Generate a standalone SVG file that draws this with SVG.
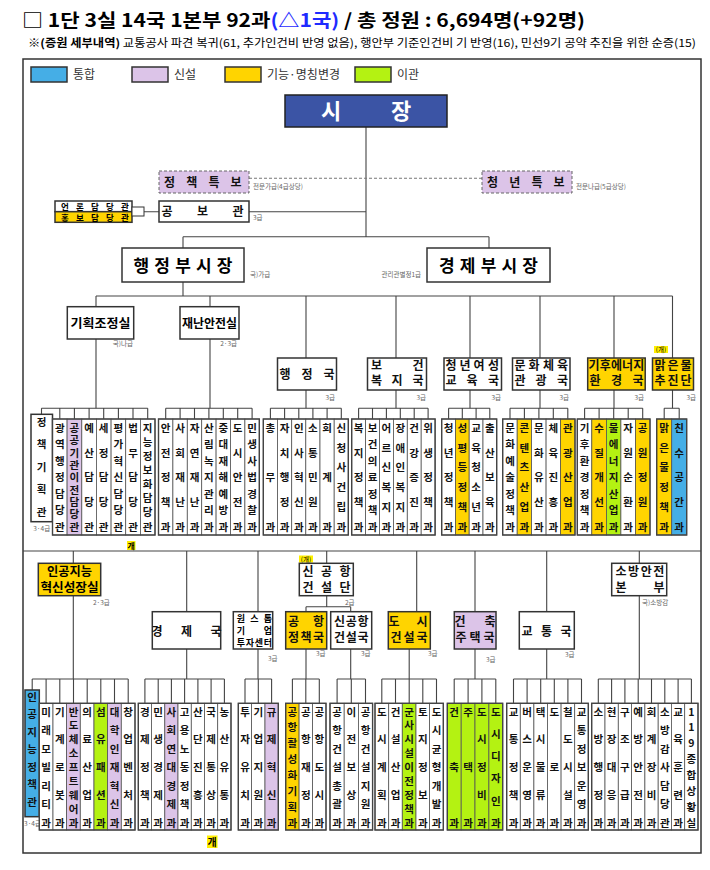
<svg xmlns="http://www.w3.org/2000/svg" width="710" height="870" viewBox="0 0 710 870">
<style>
text{font-family:"Noto Sans CJK KR","Noto Sans",sans-serif}
.t{font-size:10.5px;font-weight:700;text-anchor:middle;fill:#111}
.h{font-size:12px;font-weight:700;text-anchor:middle;fill:#111}
.s{font-size:6.5px;fill:#666}
.b{stroke:#333;stroke-width:1.5}
.col{stroke:#555;stroke-width:0.8}
.grp{fill:none;stroke:#444;stroke-width:1.4}
.w{fill:#fff}.y{fill:#ffd400}.p{fill:#dcc4e8}.g{fill:#b4f212}.bl{fill:#45aee6}
.conn path{fill:none;stroke:#444;stroke-width:1.1}
.lg{font-size:12px;fill:#333}
</style>
<rect width="710" height="870" fill="#fff"/>
<g id="header">
<text x="22" y="27" font-size="18" font-weight="700" textLength="563" lengthAdjust="spacingAndGlyphs">□ 1단 3실 14국 1본부 92과<tspan fill="#1f2bff">(△1국)</tspan> / 총 정원 : 6,694명(+92명)</text>
<text x="28" y="47" font-size="11" textLength="668" lengthAdjust="spacingAndGlyphs">※<tspan font-weight="700">(증원 세부내역)</tspan> 교통공사 파견 복귀(61, 추가인건비 반영 없음), 행안부 기준인건비 기 반영(16), 민선9기 공약 추진을 위한 순증(15)</text>
</g>
<rect x="23" y="59" width="678" height="794" fill="none" stroke="#333" stroke-width="1.5"/>
<g id="legend">
<rect class="b bl" x="31" y="67" width="36" height="15" stroke-width="1"/><text class="lg" x="73" y="79">통합</text>
<rect class="b p" x="132" y="67" width="36" height="15" stroke-width="1"/><text class="lg" x="174" y="79">신설</text>
<rect class="b y" x="225" y="67" width="36" height="15" stroke-width="1"/><text class="lg" x="267" y="79">기능·명칭변경</text>
<rect class="b g" x="355" y="67" width="36" height="15" stroke-width="1"/><text class="lg" x="397" y="79">이관</text>
</g>
<g class="conn" id="connectors">
<path d="M366 127V236.7M183 236.7H489M183 236.7V248M489 236.7V248M249 211.7H366M144 211.7H159"/>
<path d="M249 178.3H482" stroke-dasharray="3 2" style="stroke:#777"/>
<path d="M183 282V296M96 296H672.5M96 296V306.7M96 339V408.3M210 296V306.7M210 339V408.3M306 296V358M306 390V408.3M396 296V358M396 390V408.3M470 296V358M470 390V408.3M540 296V358M540 390V408.3M614 296V358M614 390V408.3M672.5 296V358M672.5 390V408.3"/>
<path d="M41.5 408.3H147.7M41.5 408.3V414.3M59.8 408.3V419M74.4 408.3V419M89.1 408.3V419M103.7 408.3V419M118.4 408.3V419M133 408.3V419M147.7 408.3V419"/>
<path d="M165.7 408.3H252.1M165.7 408.3V419M180.1 408.3V419M194.5 408.3V419M208.9 408.3V419M223.3 408.3V419M237.7 408.3V419M252.1 408.3V419"/>
<path d="M270.4 408.3H341.3M270.4 408.3V419M284.6 408.3V419M298.8 408.3V419M312.9 408.3V419M327.1 408.3V419M341.3 408.3V419"/>
<path d="M358.6 408.3H428.1M358.6 408.3V419M372.5 408.3V419M386.4 408.3V419M400.3 408.3V419M414.2 408.3V419M428.1 408.3V419"/>
<path d="M448.6 408.3H489.8M448.6 408.3V419M462.3 408.3V419M476.1 408.3V419M489.8 408.3V419"/>
<path d="M510 408.3H567.8M510 408.3V419M524.4 408.3V419M538.9 408.3V419M553.3 408.3V419M567.8 408.3V419"/>
<path d="M584.6 408.3H642.7M584.6 408.3V419M599.1 408.3V419M613.7 408.3V419M628.2 408.3V419M642.7 408.3V419"/>
<path d="M664.2 408.3H679.2M664.2 408.3V419M679.2 408.3V419"/>
<path d="M23 551H701M73.3 551V563.3M73.3 595.7V679M186.7 551V611.7M186.7 649V679M258 551V611.7M258 649V679M326.7 551V563.3M326.7 595.7V606.7M306 606.7H350.7M306 606.7V611.7M350.7 606.7V611.7M306 649V679M350.7 649V679M416.7 551V611.7M409.2 649V679M475 551V611.7M475 649V679M546.7 551V611.7M546.7 649V679M639.3 551V563.3M639.3 595.7V679"/>
<path d="M32.2 679H128.2M32.2 679V690M46.1 679V703.3M59.8 679V703.3M73.5 679V703.3M87.2 679V703.3M100.8 679V703.3M114.5 679V703.3M128.2 679V703.3"/>
<path d="M144.9 679H224.4M144.9 679V703.3M158.2 679V703.3M171.4 679V703.3M184.6 679V703.3M197.9 679V703.3M211.1 679V703.3M224.4 679V703.3"/>
<path d="M245 679H271.6M245 679V703.3M258.3 679V703.3M271.6 679V703.3"/>
<path d="M292.4 679H319.3M292.4 679V703.3M305.8 679V703.3M319.3 679V703.3"/>
<path d="M337.1 679H365.5M337.1 679V703.3M351.3 679V703.3M365.5 679V703.3"/>
<path d="M381.8 679H436.5M381.8 679V703.3M395.5 679V703.3M409.2 679V703.3M422.8 679V703.3M436.5 679V703.3"/>
<path d="M454.2 679H495.8M454.2 679V703.3M468.1 679V703.3M481.9 679V703.3M495.8 679V703.3"/>
<path d="M513.5 679H581.5M513.5 679V703.3M527.1 679V703.3M540.7 679V703.3M554.3 679V703.3M567.9 679V703.3M581.5 679V703.3"/>
<path d="M598.3 679H691.4M598.3 679V703.3M611.6 679V703.3M624.9 679V703.3M638.2 679V703.3M651.5 679V703.3M664.8 679V703.3M678.1 679V703.3M691.4 679V703.3"/>
</g>
<g id="mayor"><rect x="285" y="95" width="162" height="32" fill="#3b54a5" stroke="#222" stroke-width="1.5"/><text x="331 401" y="119" font-size="22" font-weight="700" fill="#fff" text-anchor="middle">시장</text></g>
<g id="policy-adv"><rect class="p" x="159" y="171" width="90" height="22" stroke="#666" stroke-width="1" stroke-dasharray="3 2"/><text class="h" x="169.5 191.7 214 236" y="186.5">정책특보</text><text class="s" x="253" y="189">전문가급(4급상당)</text></g>
<g id="youth-adv"><rect class="p" x="482" y="171" width="90" height="22" stroke="#666" stroke-width="1" stroke-dasharray="3 2"/><text class="h" x="492.5 514.7 537 559" y="186.5">청년특보</text><text class="s" x="576" y="189">전문나급(5급상당)</text></g>
<g id="pr"><rect class="b w" x="159" y="201" width="90" height="21"/><text class="h" x="167 202.5 238" y="216">공보관</text><text class="s" x="253" y="220">3급</text></g>
<g id="pr-sub"><rect class="b w" x="55" y="201" width="77" height="10.7" stroke-width="1.2"/><rect class="b y" x="55" y="211.7" width="77" height="10.6" stroke-width="1.2"/><rect class="w" x="132" y="207" width="12" height="9" stroke="#333" stroke-width="1"/><text x="65 80 95 110 125" y="209.6" font-size="8.5" font-weight="700" text-anchor="middle">언론담당관</text><text x="65 80 95 110 125" y="220.6" font-size="8.5" font-weight="700" text-anchor="middle">홍보담당관</text></g>
<g id="vm1"><rect class="b w" x="122" y="248" width="122" height="34"/><text x="183" y="272" font-size="17" font-weight="700" text-anchor="middle" textLength="99" lengthAdjust="spacing">행정부시장</text><text class="s" x="250" y="277">국)가급</text></g>
<g id="vm2"><rect class="b w" x="427" y="248" width="123" height="34"/><text x="488.5" y="272" font-size="17" font-weight="700" text-anchor="middle" textLength="99" lengthAdjust="spacing">경제부시장</text><text class="s" x="421" y="277" text-anchor="end">관리관별정1급</text></g>
<g id="plan"><rect class="b w" x="67.3" y="306.7" width="66.4" height="32.3"/><text x="100.5" y="328" font-size="12.5" font-weight="700" text-anchor="middle" textLength="60" lengthAdjust="spacingAndGlyphs">기획조정실</text><text class="s" x="133" y="346" text-anchor="end">국)나급</text></g>
<g id="disaster"><rect class="b w" x="180" y="306.7" width="59" height="32.3"/><text x="209.5" y="328" font-size="12" font-weight="700" text-anchor="middle" textLength="55" lengthAdjust="spacingAndGlyphs">재난안전실</text><text class="s" x="237" y="346" text-anchor="end">2·3급</text></g>
<g id="admin"><rect class="b w" x="277.5" y="358" width="59" height="32"/><text class="h" x="285 307 329" y="378.5">행정국</text><text class="s" x="335" y="400" text-anchor="end">3급</text></g>
<g id="health"><rect class="b w" x="367.5" y="358" width="59" height="32"/><text class="h" x="376.5 418" y="369.5">보건</text><text class="h" x="376.5 397 418" y="385.2">복지국</text><text class="s" x="426" y="400" text-anchor="end">3급</text></g>
<g id="youth"><rect class="b w" x="444" y="358" width="57.5" height="32"/><text class="h" x="451 465 479 493.5" y="369.5">청년여성</text><text class="h" x="451 472 493.5" y="385.2">교육국</text><text class="s" x="501" y="400" text-anchor="end">3급</text></g>
<g id="culture"><rect class="b w" x="512.5" y="358" width="57.5" height="32"/><text class="h" x="520 534 548.5 562.5" y="369.5">문화체육</text><text class="h" x="520 541 562.5" y="385.2">관광국</text><text class="s" x="569" y="400" text-anchor="end">3급</text></g>
<g id="climate"><rect class="b y" x="587.7" y="358" width="57.5" height="32"/><text class="h" x="594 605.2 616.4 627.6 638.8" y="369.5" font-size="11">기후에너지</text><text class="h" x="595 616.4 638" y="385.2">환경국</text><text class="s" x="644" y="400" text-anchor="end">3급</text></g>
<g id="water"><rect x="654" y="346" width="14" height="7" fill="#ffef00"/><text x="661" y="352" font-size="6.5" text-anchor="middle">(개)</text><rect class="b y" x="652.5" y="358" width="41" height="32"/><text class="h" x="660 673 686" y="370">맑은물</text><text class="h" x="660 673 686" y="385.4">추진단</text><text class="s" x="696" y="400" text-anchor="end">3급</text></g>
<g id="g0"><rect class="b w" x="31" y="414.3" width="21.5" height="107.4" stroke-width="1.4"/><text class="t" x="41.7 41.7 41.7 41.7 41.7" y="425.5 448 470.5 493 515.5">정책기획관</text><text class="s" x="41.7" y="531" text-anchor="middle">3·4급</text></g>
<g id="g1">
<g id="g1c1"><rect class="col w" x="52.5" y="419" width="14.6" height="116"/><text class="t" x="59.8 59.8 59.8 59.8 59.8 59.8 59.8" y="432 448.4 464.8 481.3 497.7 514.1 530.5">광역행정담당관</text></g>
<g id="g1c2"><rect class="col p" x="67.1" y="419" width="14.7" height="116"/><text class="t" x="74.4 74.4 74.4 74.4 74.4 74.4 74.4 74.4 74.4" y="432 444.3 456.6 468.9 481.3 493.6 505.9 518.2 530.5">공공기관이전담당관</text></g>
<g id="g1c3"><rect class="col w" x="81.8" y="419" width="14.6" height="116"/><text class="t" x="89.1 89.1 89.1 89.1 89.1" y="432 456.6 481.3 505.9 530.5">예산담당관</text></g>
<g id="g1c4"><rect class="col w" x="96.4" y="419" width="14.7" height="116"/><text class="t" x="103.7 103.7 103.7 103.7 103.7" y="432 456.6 481.3 505.9 530.5">세정담당관</text></g>
<g id="g1c5"><rect class="col w" x="111.1" y="419" width="14.6" height="116"/><text class="t" x="118.4 118.4 118.4 118.4 118.4 118.4 118.4" y="432 448.4 464.8 481.3 497.7 514.1 530.5">평가혁신담당관</text></g>
<g id="g1c6"><rect class="col w" x="125.7" y="419" width="14.7" height="116"/><text class="t" x="133 133 133 133 133" y="432 456.6 481.3 505.9 530.5">법무담당관</text></g>
<g id="g1c7"><rect class="col w" x="140.4" y="419" width="14.6" height="116"/><text class="t" x="147.7 147.7 147.7 147.7 147.7 147.7 147.7 147.7" y="432 446.1 460.1 474.2 488.3 502.4 516.4 530.5">지능정보화담당관</text></g>
<rect class="grp" x="52.5" y="419" width="102.5" height="116"/>
</g>
<g id="g2">
<g id="g2c1"><rect class="col w" x="158.5" y="419" width="14.4" height="116"/><text class="t" x="165.7 165.7 165.7 165.7 165.7" y="432 456.6 481.3 505.9 530.5">안전정책과</text></g>
<g id="g2c2"><rect class="col w" x="172.9" y="419" width="14.4" height="116"/><text class="t" x="180.1 180.1 180.1 180.1 180.1" y="432 456.6 481.3 505.9 530.5">사회재난과</text></g>
<g id="g2c3"><rect class="col w" x="187.3" y="419" width="14.4" height="116"/><text class="t" x="194.5 194.5 194.5 194.5 194.5" y="432 456.6 481.3 505.9 530.5">자연재난과</text></g>
<g id="g2c4"><rect class="col w" x="201.7" y="419" width="14.4" height="116"/><text class="t" x="208.9 208.9 208.9 208.9 208.9 208.9 208.9" y="432 448.4 464.8 481.3 497.7 514.1 530.5">산림녹지관리과</text></g>
<g id="g2c5"><rect class="col w" x="216.1" y="419" width="14.4" height="116"/><text class="t" x="223.3 223.3 223.3 223.3 223.3 223.3 223.3" y="432 448.4 464.8 481.3 497.7 514.1 530.5">중대재해예방과</text></g>
<g id="g2c6"><rect class="col w" x="230.5" y="419" width="14.4" height="116"/><text class="t" x="237.7 237.7 237.7 237.7 237.7" y="432 456.6 481.3 505.9 530.5">도시안전과</text></g>
<g id="g2c7"><rect class="col w" x="244.9" y="419" width="14.4" height="116"/><text class="t" x="252.1 252.1 252.1 252.1 252.1 252.1 252.1" y="432 448.4 464.8 481.3 497.7 514.1 530.5">민생사법경찰과</text></g>
<rect class="grp" x="158.5" y="419" width="100.8" height="116"/>
</g>
<g id="g3">
<g id="g3c1"><rect class="col w" x="263.3" y="419" width="14.2" height="116"/><text class="t" x="270.4 270.4 270.4" y="432 481.3 530.5">총무과</text></g>
<g id="g3c2"><rect class="col w" x="277.5" y="419" width="14.2" height="116"/><text class="t" x="284.6 284.6 284.6 284.6 284.6" y="432 456.6 481.3 505.9 530.5">자치행정과</text></g>
<g id="g3c3"><rect class="col w" x="291.7" y="419" width="14.1" height="116"/><text class="t" x="298.8 298.8 298.8 298.8 298.8" y="432 456.6 481.3 505.9 530.5">인사혁신과</text></g>
<g id="g3c4"><rect class="col w" x="305.8" y="419" width="14.2" height="116"/><text class="t" x="312.9 312.9 312.9 312.9 312.9" y="432 456.6 481.3 505.9 530.5">소통민원과</text></g>
<g id="g3c5"><rect class="col w" x="320" y="419" width="14.2" height="116"/><text class="t" x="327.1 327.1 327.1" y="432 481.3 530.5">회계과</text></g>
<g id="g3c6"><rect class="col w" x="334.2" y="419" width="14.1" height="116"/><text class="t" x="341.3 341.3 341.3 341.3 341.3 341.3" y="432 451.7 471.4 491.1 510.8 530.5">신청사건립과</text></g>
<rect class="grp" x="263.3" y="419" width="85" height="116"/>
</g>
<g id="g4">
<g id="g4c1"><rect class="col w" x="351.7" y="419" width="13.9" height="116"/><text class="t" x="358.6 358.6 358.6 358.6 358.6" y="432 456.6 481.3 505.9 530.5">복지정책과</text></g>
<g id="g4c2"><rect class="col w" x="365.6" y="419" width="13.9" height="116"/><text class="t" x="372.5 372.5 372.5 372.5 372.5 372.5 372.5" y="432 448.4 464.8 481.3 497.7 514.1 530.5">보건의료정책과</text></g>
<g id="g4c3"><rect class="col w" x="379.5" y="419" width="13.9" height="116"/><text class="t" x="386.4 386.4 386.4 386.4 386.4 386.4" y="432 451.7 471.4 491.1 510.8 530.5">어르신복지과</text></g>
<g id="g4c4"><rect class="col w" x="393.4" y="419" width="13.9" height="116"/><text class="t" x="400.3 400.3 400.3 400.3 400.3 400.3" y="432 451.7 471.4 491.1 510.8 530.5">장애인복지과</text></g>
<g id="g4c5"><rect class="col w" x="407.3" y="419" width="13.9" height="116"/><text class="t" x="414.2 414.2 414.2 414.2 414.2" y="432 456.6 481.3 505.9 530.5">건강증진과</text></g>
<g id="g4c6"><rect class="col w" x="421.2" y="419" width="13.9" height="116"/><text class="t" x="428.1 428.1 428.1 428.1 428.1" y="432 456.6 481.3 505.9 530.5">위생정책과</text></g>
<rect class="grp" x="351.7" y="419" width="83.4" height="116"/>
</g>
<g id="g5">
<g id="g5c1"><rect class="col w" x="441.7" y="419" width="13.8" height="116"/><text class="t" x="448.6 448.6 448.6 448.6 448.6" y="432 456.6 481.3 505.9 530.5">청년정책과</text></g>
<g id="g5c2"><rect class="col y" x="455.5" y="419" width="13.7" height="116"/><text class="t" x="462.3 462.3 462.3 462.3 462.3 462.3" y="432 451.7 471.4 491.1 510.8 530.5">성평등정책과</text></g>
<g id="g5c3"><rect class="col w" x="469.2" y="419" width="13.8" height="116"/><text class="t" x="476.1 476.1 476.1 476.1 476.1 476.1" y="432 451.7 471.4 491.1 510.8 530.5">교육청소년과</text></g>
<g id="g5c4"><rect class="col w" x="483" y="419" width="13.7" height="116"/><text class="t" x="489.8 489.8 489.8 489.8 489.8" y="432 456.6 481.3 505.9 530.5">출산보육과</text></g>
<rect class="grp" x="441.7" y="419" width="55" height="116"/>
</g>
<g id="g6">
<g id="g6c1"><rect class="col w" x="502.7" y="419" width="14.5" height="116"/><text class="t" x="510 510 510 510 510 510 510" y="432 448.4 464.8 481.3 497.7 514.1 530.5">문화예술정책과</text></g>
<g id="g6c2"><rect class="col y" x="517.2" y="419" width="14.4" height="116"/><text class="t" x="524.4 524.4 524.4 524.4 524.4 524.4" y="432 451.7 471.4 491.1 510.8 530.5">콘텐츠산업과</text></g>
<g id="g6c3"><rect class="col w" x="531.6" y="419" width="14.5" height="116"/><text class="t" x="538.9 538.9 538.9 538.9 538.9" y="432 456.6 481.3 505.9 530.5">문화유산과</text></g>
<g id="g6c4"><rect class="col w" x="546.1" y="419" width="14.4" height="116"/><text class="t" x="553.3 553.3 553.3 553.3 553.3" y="432 456.6 481.3 505.9 530.5">체육진흥과</text></g>
<g id="g6c5"><rect class="col y" x="560.5" y="419" width="14.5" height="116"/><text class="t" x="567.8 567.8 567.8 567.8 567.8" y="432 456.6 481.3 505.9 530.5">관광산업과</text></g>
<rect class="grp" x="502.7" y="419" width="72.3" height="116"/>
</g>
<g id="g7">
<g id="g7c1"><rect class="col w" x="577.3" y="419" width="14.5" height="116"/><text class="t" x="584.6 584.6 584.6 584.6 584.6 584.6 584.6" y="432 448.4 464.8 481.3 497.7 514.1 530.5">기후환경정책과</text></g>
<g id="g7c2"><rect class="col y" x="591.8" y="419" width="14.6" height="116"/><text class="t" x="599.1 599.1 599.1 599.1 599.1" y="432 456.6 481.3 505.9 530.5">수질개선과</text></g>
<g id="g7c3"><rect class="col g" x="606.4" y="419" width="14.5" height="116"/><text class="t" x="613.7 613.7 613.7 613.7 613.7 613.7 613.7" y="432 448.4 464.8 481.3 497.7 514.1 530.5">물에너지산업과</text></g>
<g id="g7c4"><rect class="col w" x="620.9" y="419" width="14.6" height="116"/><text class="t" x="628.2 628.2 628.2 628.2 628.2" y="432 456.6 481.3 505.9 530.5">자원순환과</text></g>
<g id="g7c5"><rect class="col y" x="635.5" y="419" width="14.5" height="116"/><text class="t" x="642.7 642.7 642.7 642.7 642.7" y="432 456.6 481.3 505.9 530.5">공원정원과</text></g>
<rect class="grp" x="577.3" y="419" width="72.7" height="116"/>
</g>
<g id="g8">
<g id="g8c1"><rect class="col y" x="656.7" y="419" width="15" height="116"/><text class="t" x="664.2 664.2 664.2 664.2 664.2 664.2" y="432 451.7 471.4 491.1 510.8 530.5">맑은물정책과</text></g>
<g id="g8c2"><rect class="col bl" x="671.7" y="419" width="15" height="116"/><text class="t" x="679.2 679.2 679.2 679.2 679.2" y="432 456.6 481.3 505.9 530.5">친수공간과</text></g>
<rect class="grp" x="656.7" y="419" width="30" height="116"/>
</g>
<g id="mark1"><rect x="127" y="541" width="8.5" height="9" fill="#ffef00"/><text x="131.2" y="548.7" font-size="8" font-weight="700" text-anchor="middle">개</text></g>
<g id="ai"><rect class="b y" x="38.3" y="563.3" width="62.4" height="32.4"/><text x="69.5" y="576" font-size="12" font-weight="700" text-anchor="middle" textLength="45" lengthAdjust="spacingAndGlyphs">인공지능</text><text x="69.5" y="591.5" font-size="12" font-weight="700" text-anchor="middle" textLength="58" lengthAdjust="spacingAndGlyphs">혁신성장실</text><text class="s" x="93" y="605">2·3급</text></g>
<g id="airport-hq"><rect x="299" y="555.5" width="14" height="7" fill="#ffef00"/><text x="306" y="561.7" font-size="6.5" text-anchor="middle">(개)</text><rect class="b w" x="299.3" y="563.3" width="54" height="32.4"/><text class="h" x="308 326.5 345" y="576">신공항</text><text class="h" x="308 326.5 345" y="591.5">건설단</text><text class="s" x="345" y="605">2급</text></g>
<g id="fire"><rect class="b w" x="611.7" y="563.3" width="55" height="32.4"/><text class="h" x="621 633.6 646.2 658.8" y="576">소방안전</text><text class="h" x="621 659" y="591.5">본부</text><text class="s" x="642" y="605">국)소방감</text></g>
<g id="econ"><rect class="b w" x="152.3" y="611.7" width="68.4" height="37.3"/><text class="h" x="157 186.5 216" y="636" font-size="12.5">경제국</text></g>
<g id="onestop"><rect class="b w" x="233.3" y="611.7" width="39.4" height="37.3"/><text x="241 254.5 268" y="622" font-size="9" font-weight="700" text-anchor="middle">원스톱</text><text x="241 268" y="634" font-size="9" font-weight="700" text-anchor="middle">기업</text><text x="241 250 259 268" y="646" font-size="9" font-weight="700" text-anchor="middle">투자센터</text><text class="s" x="268" y="661">3급</text></g>
<g id="airport-policy"><rect class="b y" x="285.7" y="611.7" width="41" height="37.3"/><text class="h" x="293.5 318.5" y="626.3">공항</text><text class="h" x="293.5 306 318.5" y="642.3">정책국</text><text class="s" x="316" y="656">3급</text></g>
<g id="airport-build"><rect class="b w" x="330.7" y="611.7" width="41" height="37.3"/><text class="h" x="339.5 351.2 363" y="626.3">신공항</text><text class="h" x="339.5 351.2 363" y="642.3">건설국</text><text class="s" x="361" y="656">3급</text></g>
<g id="city"><rect class="b y" x="388.3" y="611.7" width="42" height="37.3"/><text class="h" x="394 422" y="626.3">도시</text><text class="h" x="396 409 422" y="642.3">건설국</text><text class="s" x="428" y="656">3급</text></g>
<g id="arch"><rect class="b p" x="454.3" y="611.7" width="41.7" height="37.3"/><text class="h" x="460 490" y="626.3">건축</text><text class="h" x="461 475 489" y="642.3">주택국</text><text class="s" x="486" y="662">3급</text></g>
<g id="traffic"><rect class="b w" x="519.3" y="611.7" width="55" height="37.3"/><text class="h" x="527 546.5 566" y="636">교통국</text><text class="s" x="565" y="657">3급</text></g>
<g id="l0"><rect class="b bl" x="25" y="690" width="14.3" height="126.7" stroke-width="1.4"/><text class="t" x="32.2 32.2 32.2 32.2 32.2 32.2 32.2" y="700.5 718 735.5 753 770.5 788 805.5">인공지능정책관</text><text class="s" x="32.5" y="826" text-anchor="middle">3·4급</text></g>
<g id="l1">
<g id="l1c1"><rect class="col w" x="39.3" y="703.3" width="13.7" height="126.7"/><text class="t" x="46.1 46.1 46.1 46.1 46.1 46.1 46.1" y="715.5 734.1 752.7 771.3 789.8 808.4 827">미래모빌리티과</text></g>
<g id="l1c2"><rect class="col w" x="53" y="703.3" width="13.6" height="126.7"/><text class="t" x="59.8 59.8 59.8 59.8 59.8" y="715.5 743.4 771.3 799.1 827">기계로봇과</text></g>
<g id="l1c3"><rect class="col p" x="66.6" y="703.3" width="13.7" height="126.7"/><text class="t" x="73.5 73.5 73.5 73.5 73.5 73.5 73.5 73.5 73.5" y="715.5 729.4 743.4 757.3 771.3 785.2 799.1 813.1 827">반도체소프트웨어과</text></g>
<g id="l1c4"><rect class="col w" x="80.3" y="703.3" width="13.7" height="126.7"/><text class="t" x="87.2 87.2 87.2 87.2 87.2" y="715.5 743.4 771.3 799.1 827">의료산업과</text></g>
<g id="l1c5"><rect class="col g" x="94" y="703.3" width="13.6" height="126.7"/><text class="t" x="100.8 100.8 100.8 100.8 100.8" y="715.5 743.4 771.3 799.1 827">섬유패션과</text></g>
<g id="l1c6"><rect class="col p" x="107.6" y="703.3" width="13.7" height="126.7"/><text class="t" x="114.5 114.5 114.5 114.5 114.5 114.5 114.5" y="715.5 734.1 752.7 771.3 789.8 808.4 827">대학인재혁신과</text></g>
<g id="l1c7"><rect class="col w" x="121.3" y="703.3" width="13.7" height="126.7"/><text class="t" x="128.2 128.2 128.2 128.2 128.2" y="715.5 743.4 771.3 799.1 827">창업벤처과</text></g>
<rect class="grp" x="39.3" y="703.3" width="95.7" height="126.7"/>
</g>
<g id="l2">
<g id="l2c1"><rect class="col w" x="138.3" y="703.3" width="13.2" height="126.7"/><text class="t" x="144.9 144.9 144.9 144.9 144.9" y="715.5 743.4 771.3 799.1 827">경제정책과</text></g>
<g id="l2c2"><rect class="col w" x="151.5" y="703.3" width="13.3" height="126.7"/><text class="t" x="158.2 158.2 158.2 158.2 158.2" y="715.5 743.4 771.3 799.1 827">민생경제과</text></g>
<g id="l2c3"><rect class="col p" x="164.8" y="703.3" width="13.2" height="126.7"/><text class="t" x="171.4 171.4 171.4 171.4 171.4 171.4 171.4" y="715.5 734.1 752.7 771.3 789.8 808.4 827">사회연대경제과</text></g>
<g id="l2c4"><rect class="col w" x="178" y="703.3" width="13.3" height="126.7"/><text class="t" x="184.6 184.6 184.6 184.6 184.6 184.6 184.6" y="715.5 734.1 752.7 771.3 789.8 808.4 827">고용노동정책과</text></g>
<g id="l2c5"><rect class="col w" x="191.3" y="703.3" width="13.2" height="126.7"/><text class="t" x="197.9 197.9 197.9 197.9 197.9" y="715.5 743.4 771.3 799.1 827">산단진흥과</text></g>
<g id="l2c6"><rect class="col w" x="204.5" y="703.3" width="13.2" height="126.7"/><text class="t" x="211.1 211.1 211.1 211.1 211.1" y="715.5 743.4 771.3 799.1 827">국제통상과</text></g>
<g id="l2c7"><rect class="col w" x="217.7" y="703.3" width="13.3" height="126.7"/><text class="t" x="224.4 224.4 224.4 224.4 224.4" y="715.5 743.4 771.3 799.1 827">농산유통과</text></g>
<rect class="grp" x="138.3" y="703.3" width="92.7" height="126.7"/>
</g>
<g id="l3">
<g id="l3c1"><rect class="col w" x="238.3" y="703.3" width="13.3" height="126.7"/><text class="t" x="245 245 245 245 245" y="715.5 743.4 771.3 799.1 827">투자유치과</text></g>
<g id="l3c2"><rect class="col w" x="251.6" y="703.3" width="13.4" height="126.7"/><text class="t" x="258.3 258.3 258.3 258.3 258.3" y="715.5 743.4 771.3 799.1 827">기업지원과</text></g>
<g id="l3c3"><rect class="col p" x="265" y="703.3" width="13.3" height="126.7"/><text class="t" x="271.6 271.6 271.6 271.6 271.6" y="715.5 743.4 771.3 799.1 827">규제혁신과</text></g>
<rect class="grp" x="238.3" y="703.3" width="40" height="126.7"/>
</g>
<g id="l4">
<g id="l4c1"><rect class="col y" x="285.7" y="703.3" width="13.4" height="126.7"/><text class="t" x="292.4 292.4 292.4 292.4 292.4 292.4 292.4 292.4" y="715.5 731.4 747.4 763.3 779.2 795.1 811.1 827">공항활성화기획과</text></g>
<g id="l4c2"><rect class="col w" x="299.1" y="703.3" width="13.5" height="126.7"/><text class="t" x="305.8 305.8 305.8 305.8 305.8" y="715.5 743.4 771.3 799.1 827">공항재정과</text></g>
<g id="l4c3"><rect class="col w" x="312.6" y="703.3" width="13.4" height="126.7"/><text class="t" x="319.3 319.3 319.3 319.3 319.3" y="715.5 743.4 771.3 799.1 827">공항도시과</text></g>
<rect class="grp" x="285.7" y="703.3" width="40.3" height="126.7"/>
</g>
<g id="l5">
<g id="l5c1"><rect class="col w" x="330" y="703.3" width="14.2" height="126.7"/><text class="t" x="337.1 337.1 337.1 337.1 337.1 337.1 337.1" y="715.5 734.1 752.7 771.3 789.8 808.4 827">공항건설총괄과</text></g>
<g id="l5c2"><rect class="col w" x="344.2" y="703.3" width="14.2" height="126.7"/><text class="t" x="351.3 351.3 351.3 351.3 351.3" y="715.5 743.4 771.3 799.1 827">이전보상과</text></g>
<g id="l5c3"><rect class="col w" x="358.4" y="703.3" width="14.2" height="126.7"/><text class="t" x="365.5 365.5 365.5 365.5 365.5 365.5 365.5" y="715.5 734.1 752.7 771.3 789.8 808.4 827">공항건설지원과</text></g>
<rect class="grp" x="330" y="703.3" width="42.6" height="126.7"/>
</g>
<g id="l6">
<g id="l6c1"><rect class="col w" x="375" y="703.3" width="13.7" height="126.7"/><text class="t" x="381.8 381.8 381.8 381.8 381.8" y="715.5 743.4 771.3 799.1 827">도시계획과</text></g>
<g id="l6c2"><rect class="col w" x="388.7" y="703.3" width="13.6" height="126.7"/><text class="t" x="395.5 395.5 395.5 395.5 395.5" y="715.5 743.4 771.3 799.1 827">건설산업과</text></g>
<g id="l6c3"><rect class="col g" x="402.3" y="703.3" width="13.7" height="126.7"/><text class="t" x="409.2 409.2 409.2 409.2 409.2 409.2 409.2 409.2 409.2" y="715.5 729.4 743.4 757.3 771.3 785.2 799.1 813.1 827">군사시설이전정책과</text></g>
<g id="l6c4"><rect class="col w" x="416" y="703.3" width="13.6" height="126.7"/><text class="t" x="422.8 422.8 422.8 422.8 422.8" y="715.5 743.4 771.3 799.1 827">토지정보과</text></g>
<g id="l6c5"><rect class="col w" x="429.6" y="703.3" width="13.7" height="126.7"/><text class="t" x="436.5 436.5 436.5 436.5 436.5 436.5 436.5" y="715.5 734.1 752.7 771.3 789.8 808.4 827">도시균형개발과</text></g>
<rect class="grp" x="375" y="703.3" width="68.3" height="126.7"/>
</g>
<g id="l7">
<g id="l7c1"><rect class="col g" x="447.3" y="703.3" width="13.9" height="126.7"/><text class="t" x="454.2 454.2 454.2" y="715.5 771.3 827">건축과</text></g>
<g id="l7c2"><rect class="col g" x="461.2" y="703.3" width="13.8" height="126.7"/><text class="t" x="468.1 468.1 468.1" y="715.5 771.3 827">주택과</text></g>
<g id="l7c3"><rect class="col g" x="475" y="703.3" width="13.9" height="126.7"/><text class="t" x="481.9 481.9 481.9 481.9 481.9" y="715.5 743.4 771.3 799.1 827">도시정비과</text></g>
<g id="l7c4"><rect class="col g" x="488.9" y="703.3" width="13.8" height="126.7"/><text class="t" x="495.8 495.8 495.8 495.8 495.8 495.8" y="715.5 737.8 760.1 782.4 804.7 827">도시디자인과</text></g>
<rect class="grp" x="447.3" y="703.3" width="55.4" height="126.7"/>
</g>
<g id="l8">
<g id="l8c1"><rect class="col w" x="506.7" y="703.3" width="13.6" height="126.7"/><text class="t" x="513.5 513.5 513.5 513.5 513.5" y="715.5 743.4 771.3 799.1 827">교통정책과</text></g>
<g id="l8c2"><rect class="col w" x="520.3" y="703.3" width="13.6" height="126.7"/><text class="t" x="527.1 527.1 527.1 527.1 527.1" y="715.5 743.4 771.3 799.1 827">버스운영과</text></g>
<g id="l8c3"><rect class="col w" x="533.9" y="703.3" width="13.6" height="126.7"/><text class="t" x="540.7 540.7 540.7 540.7 540.7" y="715.5 743.4 771.3 799.1 827">택시물류과</text></g>
<g id="l8c4"><rect class="col w" x="547.5" y="703.3" width="13.6" height="126.7"/><text class="t" x="554.3 554.3 554.3" y="715.5 771.3 827">도로과</text></g>
<g id="l8c5"><rect class="col w" x="561.1" y="703.3" width="13.6" height="126.7"/><text class="t" x="567.9 567.9 567.9 567.9 567.9" y="715.5 743.4 771.3 799.1 827">철도시설과</text></g>
<g id="l8c6"><rect class="col w" x="574.7" y="703.3" width="13.6" height="126.7"/><text class="t" x="581.5 581.5 581.5 581.5 581.5 581.5 581.5" y="715.5 734.1 752.7 771.3 789.8 808.4 827">교통정보운영과</text></g>
<rect class="grp" x="506.7" y="703.3" width="81.6" height="126.7"/>
</g>
<g id="l9">
<g id="l9c1"><rect class="col w" x="591.7" y="703.3" width="13.3" height="126.7"/><text class="t" x="598.3 598.3 598.3 598.3 598.3" y="715.5 743.4 771.3 799.1 827">소방행정과</text></g>
<g id="l9c2"><rect class="col w" x="605" y="703.3" width="13.3" height="126.7"/><text class="t" x="611.6 611.6 611.6 611.6 611.6" y="715.5 743.4 771.3 799.1 827">현장대응과</text></g>
<g id="l9c3"><rect class="col w" x="618.3" y="703.3" width="13.3" height="126.7"/><text class="t" x="624.9 624.9 624.9 624.9 624.9" y="715.5 743.4 771.3 799.1 827">구조구급과</text></g>
<g id="l9c4"><rect class="col w" x="631.6" y="703.3" width="13.3" height="126.7"/><text class="t" x="638.2 638.2 638.2 638.2 638.2" y="715.5 743.4 771.3 799.1 827">예방안전과</text></g>
<g id="l9c5"><rect class="col w" x="644.9" y="703.3" width="13.3" height="126.7"/><text class="t" x="651.5 651.5 651.5 651.5 651.5" y="715.5 743.4 771.3 799.1 827">회계장비과</text></g>
<g id="l9c6"><rect class="col w" x="658.2" y="703.3" width="13.2" height="126.7"/><text class="t" x="664.8 664.8 664.8 664.8 664.8 664.8 664.8" y="715.5 734.1 752.7 771.3 789.8 808.4 827">소방감사담당관</text></g>
<g id="l9c7"><rect class="col w" x="671.4" y="703.3" width="13.3" height="126.7"/><text class="t" x="678.1 678.1 678.1 678.1 678.1" y="715.5 743.4 771.3 799.1 827">교육훈련과</text></g>
<g id="l9c8"><rect class="col w" x="684.7" y="703.3" width="13.3" height="126.7"/><text class="t" x="691.4 691.4 691.4 691.4 691.4 691.4 691.4 691.4" y="715.5 731.4 747.4 763.3 779.2 795.1 811.1 827">119종합상황실</text></g>
<rect class="grp" x="591.7" y="703.3" width="106.3" height="126.7"/>
</g>
<g id="mark2"><rect x="207" y="835.5" width="10.5" height="12.5" fill="#ffef00"/><text x="212.2" y="845.5" font-size="10" font-weight="700" text-anchor="middle">개</text></g>
</svg>
